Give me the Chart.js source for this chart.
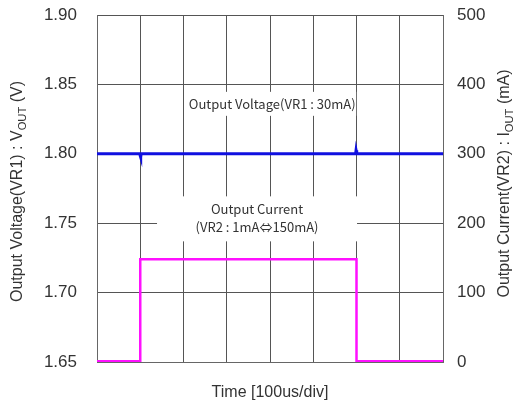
<!DOCTYPE html>
<html>
<head>
<meta charset="utf-8">
<script src="https://cdn.jsdelivr.net/npm/chart.js@4.4.0/dist/chart.umd.min.js"></script>
<style>
  html, body { margin: 0; padding: 0; background: #fff; }
  #wrap { width: 521px; height: 402px; }
</style>
</head>
<body>
<div id="wrap"><canvas id="chart"></canvas></div>
<script>
// Data (time in us, 100us/div)
const timeLabels = [0, 100, 200, 300, 400, 500, 600, 700, 800];
const voltageTicks = [1.65, 1.70, 1.75, 1.80, 1.85, 1.90];
const currentTicks = [0, 100, 200, 300, 400, 500];

const voltageTime = [0, 99, 100, 101, 102, 598, 599, 600, 601, 800];
const voltageValues = [1.800, 1.800, 1.7985, 1.7975, 1.800, 1.800, 1.8025, 1.8015, 1.800, 1.800];

const currentTime = [0, 100, 100, 600, 600, 800];
const currentValues = [1, 1, 148, 148, 1, 1];

const FONT = "'Liberation Sans', 'Noto Sans CJK JP', sans-serif";
const NOTE_FONT = "'Noto Sans CJK JP', 'Liberation Sans', sans-serif";
const TEXT = '#333';
const GRID = '#555';

function pts(xs, ys) {
  return xs.map((x, i) => ({ x: x, y: ys[i] }));
}

// draws text with a subscript part, rotated
function drawSubText(ctx, parts, x, y, rot, size) {
  ctx.save();
  ctx.translate(x, y);
  ctx.rotate(rot);
  let total = 0;
  parts.forEach(p => {
    ctx.font = (p.sub ? size * 0.7 : size) + 'px ' + FONT;
    total += ctx.measureText(p.t).width;
  });
  let cx = -total / 2;
  ctx.fillStyle = TEXT;
  ctx.textBaseline = 'middle';
  ctx.textAlign = 'left';
  parts.forEach(p => {
    ctx.font = (p.sub ? size * 0.7 : size) + 'px ' + FONT;
    ctx.fillText(p.t, cx, p.sub ? size * 0.3 : 0);
    cx += ctx.measureText(p.t).width;
  });
  ctx.restore();
}

// labels inside the plot with white boxes behind them
const notesPlugin = {
  id: 'notes',
  beforeDatasetsDraw(chart) {
    const ctx = chart.ctx;
    const xs = chart.scales.x;
    const ys = chart.scales.y;

    // voltage label
    let cx = xs.getPixelForValue(405);
    let cy = ys.getPixelForValue(1.836);
    ctx.save();
    ctx.fillStyle = '#fff';
    ctx.fillRect(cx - 84, cy - 12, 168, 24);
    ctx.fillStyle = TEXT;
    ctx.font = '13px ' + NOTE_FONT;
    ctx.textAlign = 'center';
    ctx.textBaseline = 'middle';
    ctx.fillText('Output Voltage(VR1 : 30mA)', cx, cy);

    // current label
    cx = xs.getPixelForValue(370);
    cy = ys.getPixelForValue(1.7535);
    ctx.fillStyle = '#fff';
    ctx.fillRect(cx - 100, cy - 22, 200, 45);
    ctx.fillStyle = TEXT;
    ctx.fillText('Output Current', cx, cy - 9);
    ctx.fillText('(VR2 : 1mA\u21d4150mA)', cx, cy + 9);
    ctx.restore();
  },
  afterDraw(chart) {
    const ctx = chart.ctx;
    const a = chart.chartArea;
    const mid = (a.top + a.bottom) / 2 + 3;
    drawSubText(ctx, [
      { t: 'Output Voltage(VR1) : V' }, { t: 'OUT', sub: true }, { t: ' (V)' }
    ], 18, mid, -Math.PI / 2, 16);
    drawSubText(ctx, [
      { t: 'Output Current(VR2) : I' }, { t: 'OUT', sub: true }, { t: ' (mA)' }
    ], 505, mid - 8, -Math.PI / 2, 16);
  }
};

// fixed axis sizes so the plot box sits where it does in the picture
function fitY(width) {
  return s => {
    s.width = width;
    s.paddingTop = 15;
    s.paddingBottom = 0;
  };
}

new Chart(document.getElementById('chart'), {
  type: 'line',
  data: {
    datasets: [
      {
        label: 'Output Voltage',
        data: pts(voltageTime, voltageValues),
        yAxisID: 'y',
        borderColor: '#1010e0',
        borderWidth: 3,
        pointRadius: 0,
        tension: 0,
      },
      {
        label: 'Output Current',
        data: pts(currentTime, currentValues),
        yAxisID: 'y1',
        borderColor: '#ff10ff',
        borderWidth: 2.5,
        pointRadius: 0,
        tension: 0,
      },
    ],
  },
  options: {
    responsive: true,
    maintainAspectRatio: false,
    animation: false,
    layout: { padding: 0 },
    plugins: {
      legend: { display: false },
      tooltip: { enabled: false },
    },
    scales: {
      x: {
        type: 'linear',
        min: timeLabels[0],
        max: timeLabels[timeLabels.length - 1],
        afterBuildTicks: s => { s.ticks = timeLabels.map(v => ({ value: v })); },
        afterFit: s => { s.height = 40; },
        ticks: { display: false },
        grid: { color: GRID, lineWidth: 1, drawTicks: false },
        border: { color: '#666', width: 1 },
        title: {
          display: true,
          text: 'Time [100us/div]',
          color: TEXT,
          font: { family: FONT, size: 16 },
          padding: { top: 14, bottom: 0 },
        },
      },
      y: {
        position: 'left',
        min: 1.65,
        max: 1.90,
        afterBuildTicks: s => { s.ticks = voltageTicks.map(v => ({ value: v })); },
        afterFit: fitY(97),
        ticks: {
          color: TEXT,
          padding: 20,
          font: { family: FONT, size: 17 },
          callback: v => v.toFixed(2),
        },
        grid: { color: GRID, lineWidth: 1, drawTicks: false },
        border: { color: '#666', width: 1 },
      },
      y1: {
        position: 'right',
        min: 0,
        max: 500,
        afterBuildTicks: s => { s.ticks = currentTicks.map(v => ({ value: v })); },
        afterFit: fitY(78),
        ticks: {
          color: TEXT,
          padding: 14,
          font: { family: FONT, size: 17 },
        },
        grid: { drawOnChartArea: false, drawTicks: false },
        border: { color: '#666', width: 1 },
      },
    },
  },
  plugins: [notesPlugin],
});
</script>
</body>
</html>
